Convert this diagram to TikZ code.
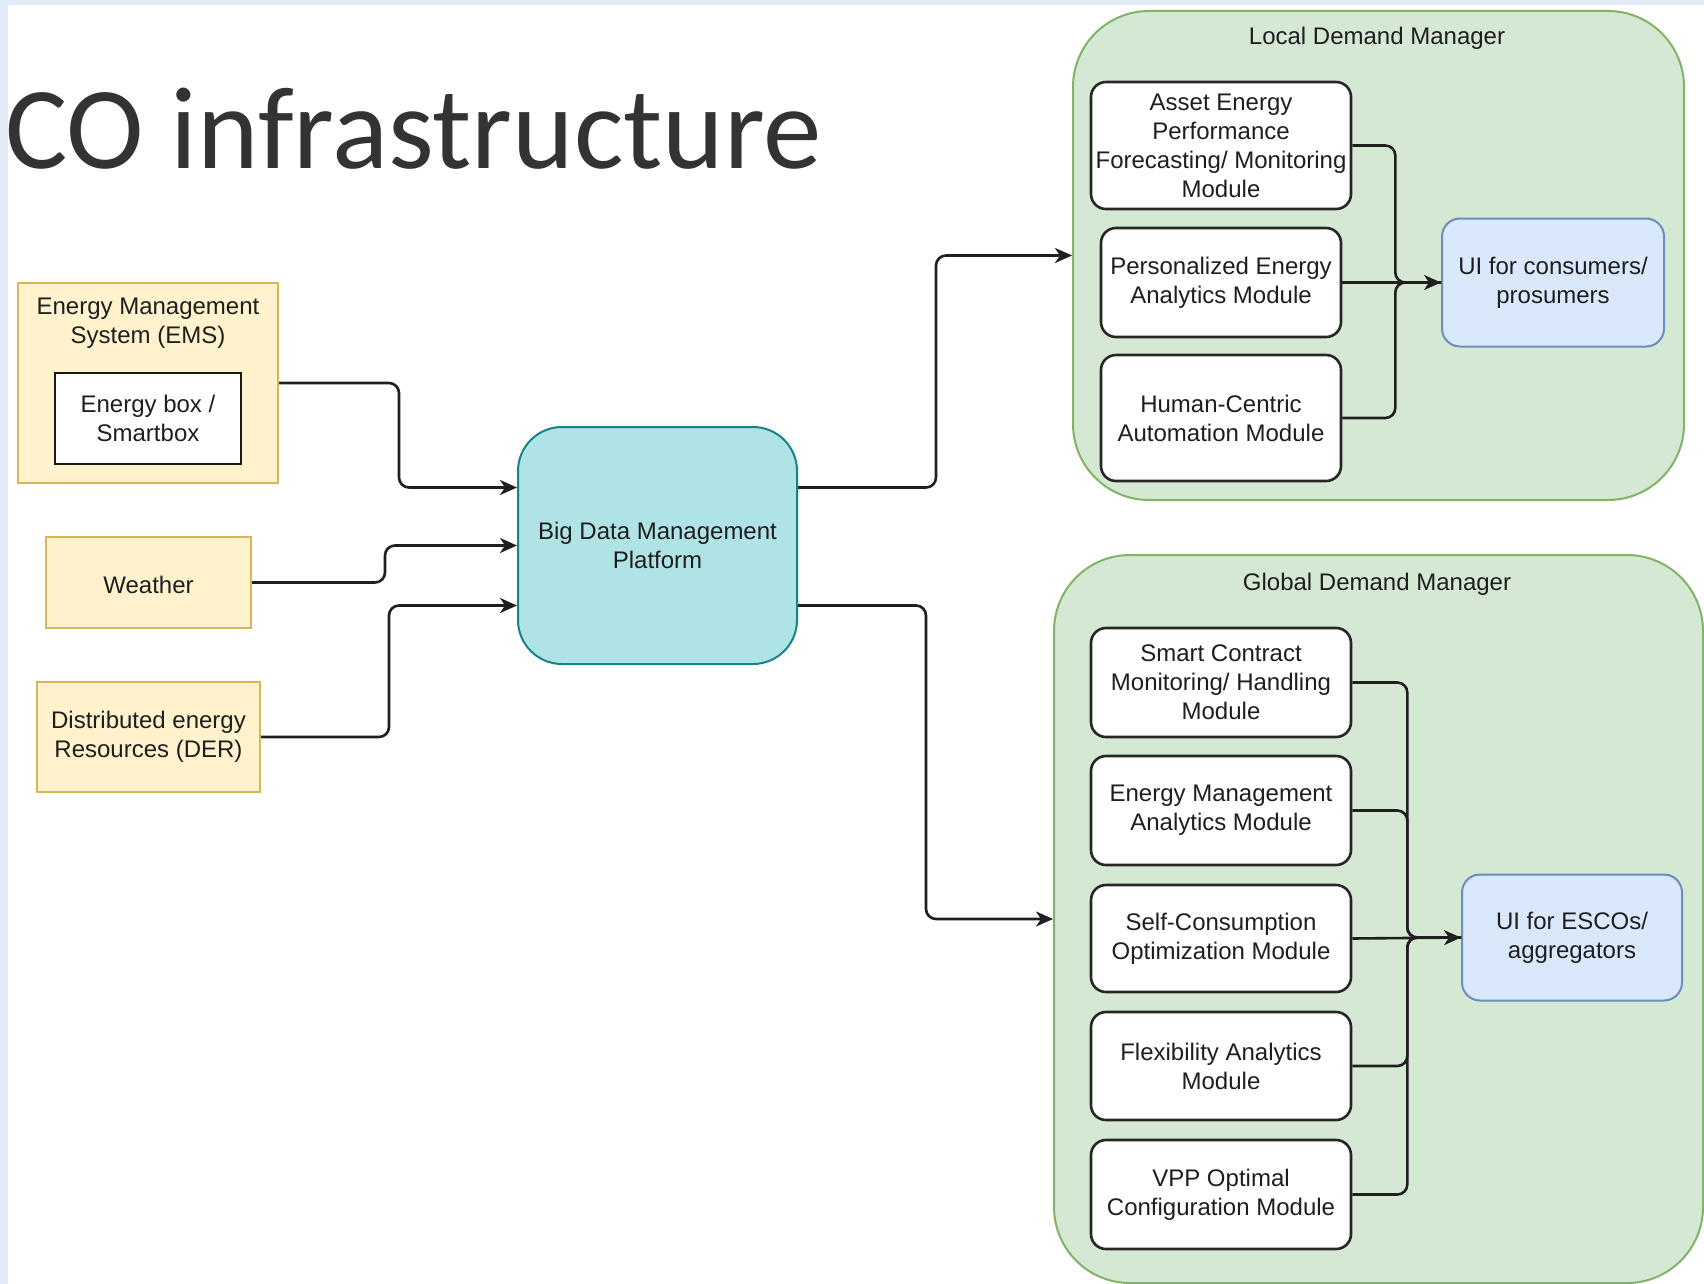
\documentclass[tikz,border=0pt]{standalone}
\usepackage{fontspec}
\setmainfont{Liberation Sans}
\newfontfamily\titlefont{Carlito}
\usetikzlibrary{arrows.meta,calc}
\definecolor{yelfill}{HTML}{FFF2CC}
\definecolor{yeldraw}{HTML}{D6B656}
\definecolor{tealfill}{HTML}{B0E3E6}
\definecolor{tealdraw}{HTML}{16838B}
\definecolor{grnfill}{HTML}{D5E8D4}
\definecolor{grndraw}{HTML}{82B366}
\definecolor{bluefill}{HTML}{DAE8FC}
\definecolor{bluedraw}{HTML}{6C8EBF}
\definecolor{txtcol}{HTML}{1E1E1E}
\definecolor{titlecol}{HTML}{333333}
\definecolor{stripcol}{HTML}{E4EBF8}
\begin{document}
\begin{tikzpicture}[x=1pt,y=-1pt,
  every node/.style={font=\fontsize{24}{29}\selectfont, text=txtcol, align=center, inner sep=0pt,
    execute at begin node={\rule{0pt}{21.5pt}}},
  norule/.style={execute at begin node={}},
  yel/.style={draw=yeldraw, fill=yelfill, line width=2pt},
  inbox/.style={draw=black!90, fill=white, line width=2.6pt},
  bdpbox/.style={draw=tealdraw, fill=tealfill, line width=2pt, rounded corners=44pt},
  cont/.style={draw=grndraw, fill=grnfill, line width=2pt, rounded corners=76pt},
  mod/.style={draw=black!85, fill=white, line width=2.6pt, rounded corners=15pt},
  uibox/.style={draw=bluedraw, fill=bluefill, line width=2pt, rounded corners=18pt},
  conn/.style={draw=black!88, line width=2.6pt, rounded corners=10pt},
  arr/.style={conn, -{Stealth[length=17pt,width=15pt,inset=5pt]}}
]
\useasboundingbox (0,0) rectangle (1704,1284);
\fill[white] (0,0) rectangle (1704,1284);
\fill[stripcol] (0,0) rectangle (1704,5);
\fill[stripcol] (0,0) rectangle (8,1284);

% title
\node[norule, anchor=base west, font=\titlefont\fontsize{117}{140}\selectfont, text=titlecol] (title) at (5,168) {CO infrastructure};

% left inputs
\node[yel, minimum width=260, minimum height=200] (ems) at (148,383) {};
\node (emst) at (148,323) {Energy Management\\System (EMS)};
\node[inbox, norule, minimum width=186, minimum height=91] (ebox) at (148,418.5) {Energy box /\\Smartbox};
\node[yel, norule, minimum width=205, minimum height=91] (weather) at (148.5,582.5) {Weather};
\node[yel, minimum width=223, minimum height=110] (der) at (148.5,737) {Distributed energy\\Resources (DER)};

% big data platform
\node[bdpbox, norule, minimum width=279, minimum height=237] (bdp) at (657.5,545.5) {Big Data Management\\Platform};

% local demand manager
\node[cont, minimum width=611, minimum height=489] (ldm) at (1378.5,255.5) {};
\node (ldmt) at (1377,36) {Local Demand Manager};
\node[mod, minimum width=260, minimum height=127] (asset) at (1221,145.5) {Asset Energy\\Performance\\Forecasting/ Monitoring\\Module};
\node[mod, minimum width=240, minimum height=109] (pea) at (1221,282.5) {Personalized Energy\\Analytics Module};
\node[mod, minimum width=240, minimum height=126] (hcm) at (1221,418) {Human-Centric\\Automation Module};
\node[uibox, minimum width=222, minimum height=128] (uic) at (1553,282.5) {UI for consumers/\\prosumers};

% global demand manager
\node[cont, minimum width=649, minimum height=728] (gdm) at (1378.5,919) {};
\node (gdmt) at (1377,582) {Global Demand Manager};
\node[mod, minimum width=260, minimum height=109] (scm) at (1221,682.5) {Smart Contract\\Monitoring/ Handling\\Module};
\node[mod, minimum width=260, minimum height=109] (ema) at (1221,810.5) {Energy Management\\Analytics Module};
\node[mod, minimum width=260, minimum height=107] (sco) at (1221,938.5) {Self-Consumption\\Optimization Module};
\node[mod, minimum width=260, minimum height=108] (fam) at (1221,1066) {Flexibility Analytics\\Module};
\node[mod, minimum width=260, minimum height=109] (vpp) at (1221,1194.5) {VPP Optimal\\Configuration Module};
\node[uibox, minimum width=220, minimum height=126] (uie) at (1572,937.5) {UI for ESCOs/\\aggregators};

% input connectors
\draw[arr] (ems.east) -- ++(120,0) |- ([yshift=58pt]bdp.west);
\draw[arr] (weather.east) -- ++(133,0) |- (bdp.west);
\draw[arr] (der.east) -- ++(128,0) |- ([yshift=-60pt]bdp.west);

% output connectors
\draw[arr] ([yshift=58pt]bdp.east) -- ++(138,0) |- (ldm.west);
\draw[arr] ([yshift=-60pt]bdp.east) -- ++(128,0) |- (gdm.west);

% local connectors
\draw[conn] (asset.east) -- ++(43,0) |- (uic.west);
\draw[conn] (hcm.east) -- ++(53,0) |- (uic.west);
\draw[arr] (pea.east) -- (uic.west);

% global connectors
\draw[conn] (scm.east) -- ++(55,0) |- (uie.west);
\draw[conn] (ema.east) -- ++(55,0) |- (uie.west);
\draw[conn] (fam.east) -- ++(55,0) |- (uie.west);
\draw[conn] (vpp.east) -- ++(55,0) |- (uie.west);
\draw[arr] (sco.east) -- (uie.west);
\end{tikzpicture}
\end{document}
